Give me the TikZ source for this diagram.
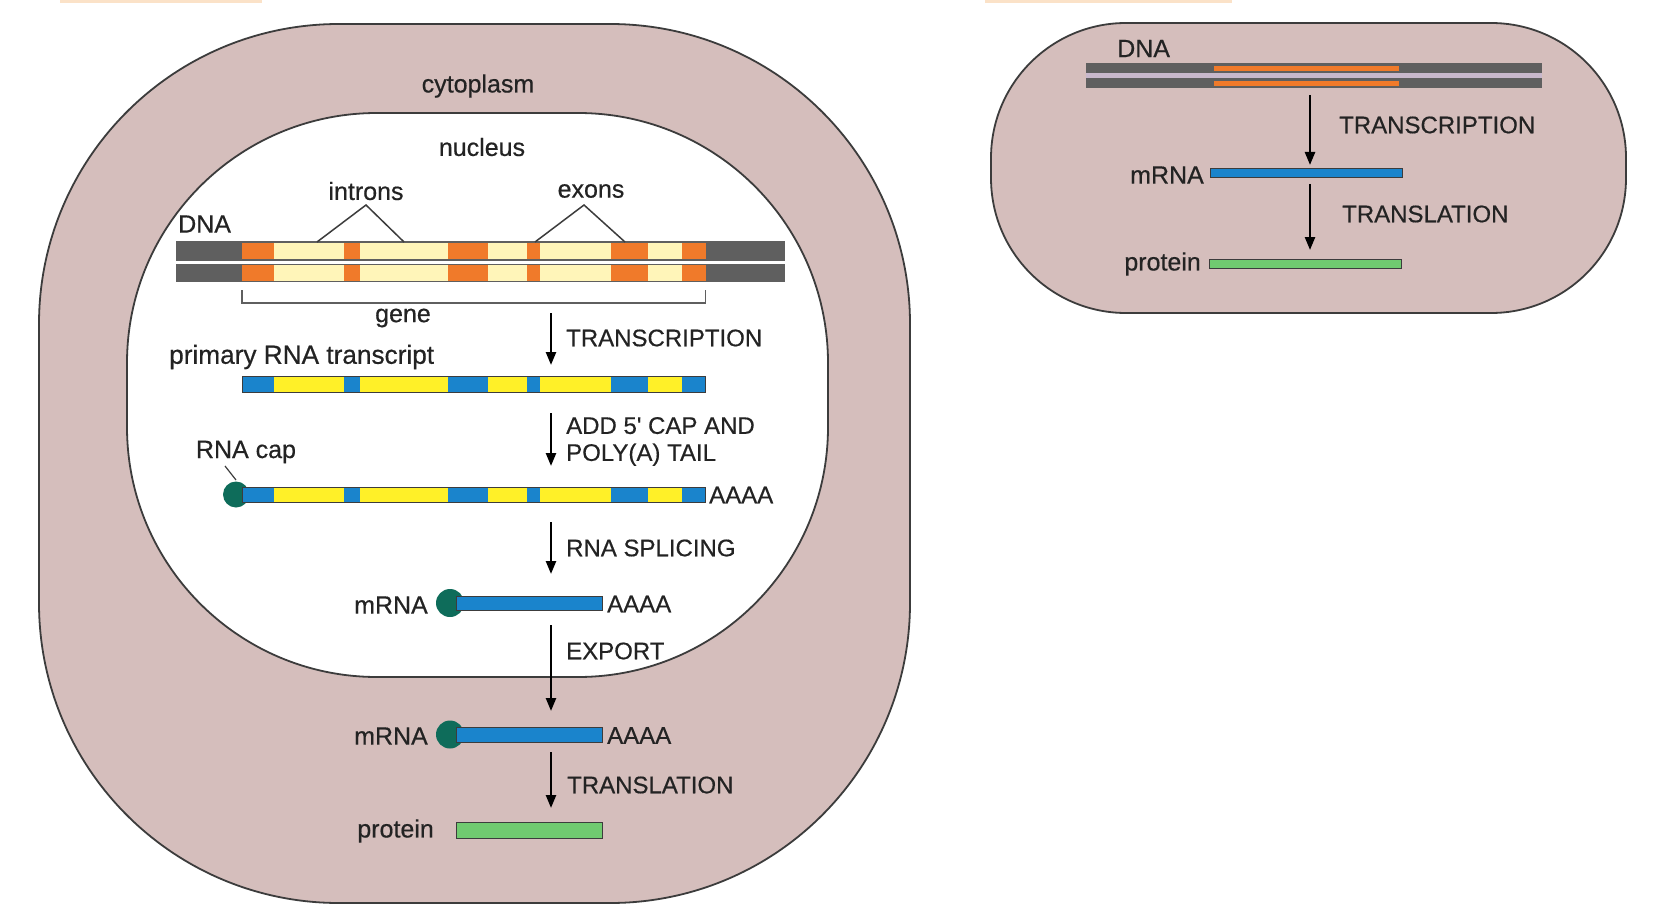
\documentclass[tikz,border=0pt]{standalone}
\usepackage{fontspec}
\setmainfont{Liberation Sans}
\newfontfamily\lblfont{Liberation Sans}[FakeBold=0.5]
\usetikzlibrary{arrows.meta}
\definecolor{cyto}{RGB}{213,190,188}
\definecolor{edge}{RGB}{60,60,60}
\definecolor{txt}{RGB}{35,35,35}
\definecolor{dnagrey}{RGB}{95,95,95}
\definecolor{exonor}{RGB}{240,122,42}
\definecolor{cream}{RGB}{255,245,185}
\definecolor{rblue}{RGB}{26,132,204}
\definecolor{ryellow}{RGB}{255,240,40}
\definecolor{capteal}{RGB}{14,108,90}
\definecolor{prot}{RGB}{112,202,112}
\definecolor{gapcol}{RGB}{200,184,204}
\definecolor{topstrip}{RGB}{251,226,200}
\tikzset{
  lbl/.style={font=\lblfont\fontsize{25}{28}\selectfont, text=txt, inner sep=0pt},
  caps/.style={font=\lblfont\fontsize{24}{27}\selectfont, text=txt, inner sep=0pt, align=left},
  flow/.style={line width=2.4pt, draw=black, -{Triangle[length=13pt,width=10pt]}},
  membrane/.style={draw=edge, line width=1.8pt},
  barline/.style={draw=edge, line width=1pt},
  pointer/.style={draw=edge, line width=1.5pt},
}
\begin{document}
\begin{tikzpicture}[x=1pt,y=-1pt]
\useasboundingbox (0,0) rectangle (1656,920);
\fill[white] (0,0) rectangle (1656,920);
% faint strips at the top edge
\fill[topstrip] (60,0) rectangle (262,3);
\fill[topstrip] (985,0) rectangle (1232,3);

% ===== eukaryotic cell =====
\draw[membrane, fill=cyto, rounded corners=300pt] (39,24) rectangle (910,903);
\draw[membrane, fill=white, rounded corners=250pt] (127,113) rectangle (828,677);

\node[lbl] (cyto) at (478,86) {cytoplasm};
\node[lbl] (nuc) at (482,147) {nucleus};
\node[lbl] (introns) at (366,191) {introns};
\node[lbl] (exons) at (591,191) {exons};
\node[lbl, anchor=west] (dnaL) at (178,224) {DNA};

% DNA double strand with gene
\foreach \ya/\yb in {242/260, 264.5/281.5} {
  \fill[dnagrey] (177,\ya) rectangle (784,\yb);
  \fill[cream] (242,\ya) rectangle (705.5,\yb);
  \foreach \xa/\xb in {242/274,344/360,448/488,527/540,611/648,682/705.5}
    \fill[exonor] (\xa,\ya) rectangle (\xb,\yb);
  \draw[dnagrey, line width=1.4pt] (177,\ya) rectangle (784,\yb);
}
\coordinate (iap) at (366,205);
\coordinate (i1) at (317,242);
\coordinate (i2) at (404,242);
\draw[pointer] (i1) -- (iap) -- (i2);
\coordinate (eap) at (584,205);
\coordinate (e1) at (535,242);
\coordinate (e2) at (625,242);
\draw[pointer] (e1) -- (eap) -- (e2);

% gene bracket
\draw[draw=dnagrey, line width=1.6pt] (242,290) -- (242,303) -- (705.5,303) -- (705.5,290);
\node[lbl] (gene) at (403,318) {gene};

% transcription
\coordinate (a1s) at (551,313);
\coordinate (a1e) at (551,365);
\draw[flow] (a1s) -- (a1e);
\node[caps, anchor=west] (tr1) at (566,338) {TRANSCRIPTION};
\node[lbl, anchor=west, font=\lblfont\fontsize{26.2}{29}\selectfont] (prim) at (169,357) {primary RNA transcript};

% primary transcript
\fill[ryellow] (242,376) rectangle (705.5,392);
\foreach \xa/\xb in {242/274,344/360,448/488,527/540,611/648,682/705.5}
  \fill[rblue] (\xa,376) rectangle (\xb,392);
\draw[barline] (242,376) rectangle (705.5,392);

% cap and tail
\coordinate (a2s) at (551,413);
\coordinate (a2e) at (551,466);
\draw[flow] (a2s) -- (a2e);
\node[caps, anchor=west] (captail) at (566,441.5) {ADD 5' CAP AND\\POLY(A) TAIL};
\node[lbl] (rnacap) at (246,452) {RNA cap};
\fill[capteal] (236,494.5) circle (13);
\fill[ryellow] (242,487) rectangle (705.5,502.5);
\foreach \xa/\xb in {242/274,344/360,448/488,527/540,611/648,682/705.5}
  \fill[rblue] (\xa,487) rectangle (\xb,502.5);
\draw[barline] (242,487) rectangle (705.5,502.5);
\draw[pointer, line width=1.2pt] (225,466) -- (236,480);
\node[caps, anchor=west] (polyA1) at (709,495) {AAAA};

% splicing
\coordinate (a3s) at (551,522);
\coordinate (a3e) at (551,574);
\draw[flow] (a3s) -- (a3e);
\node[caps, anchor=west] (splice) at (566,548) {RNA SPLICING};

% nuclear mRNA
\node[lbl, anchor=east] (mrna1) at (428,605) {mRNA};
\fill[capteal] (450,603) circle (14);
\fill[rblue] (456,596) rectangle (602,610.5);
\draw[barline] (456,596) rectangle (602,610.5);
\node[caps, anchor=west] (polyA2) at (607,604) {AAAA};

% export
\coordinate (a4s) at (551,625);
\coordinate (a4e) at (551,711);
\draw[flow] (a4s) -- (a4e);
\node[caps, anchor=west] (export) at (566,651) {EXPORT};

% cytoplasmic mRNA
\node[lbl, anchor=east] (mrna2) at (428,736) {mRNA};
\fill[capteal] (450,734.5) circle (14);
\fill[rblue] (456,727) rectangle (602,742);
\draw[barline] (456,727) rectangle (602,742);
\node[caps, anchor=west] (polyA3) at (607,735.5) {AAAA};

% translation
\coordinate (a5s) at (551,752);
\coordinate (a5e) at (551,808);
\draw[flow] (a5s) -- (a5e);
\node[caps, anchor=west] (transl) at (567,785) {TRANSLATION};
\node[lbl, anchor=east] (protL) at (434,831) {protein};
\fill[prot] (456,822) rectangle (602,838);
\draw[barline] (456,822) rectangle (602,838);

% ===== prokaryotic cell =====
\draw[membrane, fill=cyto, rounded corners=135pt] (991,23) rectangle (1626,313);
\node[lbl, anchor=west] (dnaR) at (1117,48.5) {DNA};
\fill[gapcol] (1086,73.3) rectangle (1542,78.3);
\foreach \ya/\yb in {63.5/73.3, 78.3/88.5} {
  \fill[dnagrey] (1086,\ya) rectangle (1542,\yb);
  \fill[exonor] (1214,\ya+2.7) rectangle (1399,\yb-2.7);
}
\coordinate (b1s) at (1310,95);
\coordinate (b1e) at (1310,165);
\draw[flow] (b1s) -- (b1e);
\node[caps, anchor=west] (trR) at (1339,125) {TRANSCRIPTION};
\node[lbl, anchor=east] (mrnaR) at (1204,175) {mRNA};
\fill[rblue] (1210,169) rectangle (1402,178);
\draw[barline] (1210,169) rectangle (1402,178);
\coordinate (b2s) at (1310,184);
\coordinate (b2e) at (1310,250);
\draw[flow] (b2s) -- (b2e);
\node[caps, anchor=west] (tlR) at (1342,214) {TRANSLATION};
\node[lbl, anchor=east] (protR) at (1201,264) {protein};
\fill[prot] (1209,259) rectangle (1401,268);
\draw[barline] (1209,259) rectangle (1401,268);
\end{tikzpicture}
\end{document}
